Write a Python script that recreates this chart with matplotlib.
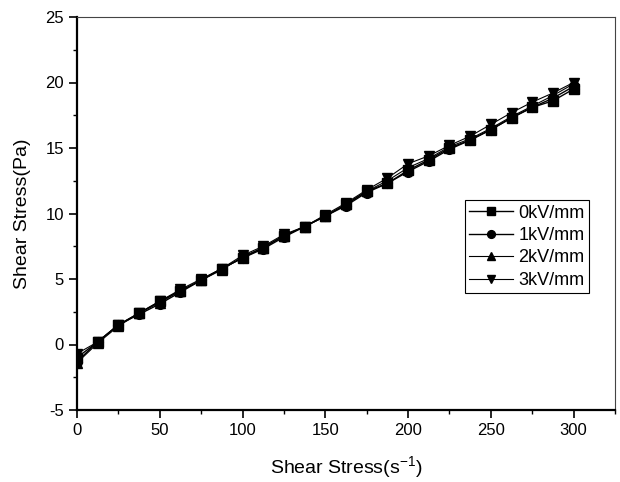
import matplotlib
matplotlib.use("Agg")
import matplotlib.pyplot as plt
from matplotlib.ticker import MultipleLocator

plt.rcParams['font.family'] = ['Liberation Sans', 'DejaVu Sans']
plt.rcParams['axes.unicode_minus'] = False

rate = [0, 12.5, 25, 37.5, 50, 62.5, 75, 87.5, 100, 112.5, 125, 137.5, 150,
        162.5, 175, 187.5, 200, 212.5, 225, 237.5, 250, 262.5, 275, 287.5, 300]

s0 = [-1.0, 0.2, 1.5, 2.4, 3.3, 4.1, 4.9, 5.8, 6.6, 7.4, 8.3, 9.0, 9.8,
      10.7, 11.7, 12.3, 13.3, 14.1, 15.0, 15.6, 16.4, 17.3, 18.1, 18.6, 19.5]
s1 = [-1.3, 0.2, 1.5, 2.3, 3.1, 4.0, 4.9, 5.8, 6.6, 7.3, 8.2, 9.0, 9.8,
      10.6, 11.6, 12.3, 13.2, 14.0, 14.9, 15.6, 16.4, 17.3, 18.1, 18.8, 19.7]
s2 = [-1.4, 0.1, 1.4, 2.4, 3.2, 4.1, 4.9, 5.7, 6.7, 7.4, 8.3, 9.0, 9.8,
      10.7, 11.7, 12.5, 13.5, 14.2, 15.1, 15.7, 16.5, 17.4, 18.2, 19.0, 19.9]
s3 = [-0.7, 0.2, 1.5, 2.4, 3.3, 4.2, 5.0, 5.8, 6.8, 7.5, 8.4, 9.0, 9.9,
      10.8, 11.8, 12.7, 13.8, 14.4, 15.2, 15.9, 16.8, 17.7, 18.5, 19.2, 20.0]

labels = ['0kV/mm', '1kV/mm', '2kV/mm', '3kV/mm']
markers = ['s', 'o', '^', 'v']
series = [s0, s1, s2, s3]
lws = [1.0, 1.0, 0.8, 0.8]

fig = plt.figure(figsize=(6.2, 4.82), dpi=100)
ax = fig.add_axes([77/620, 1 - 410/482, (615-77)/620, (410-17)/482])

for y, lab, m, lw in zip(series, labels, markers, lws):
    ax.plot(rate, y, color='black', marker=m, markersize=7, linewidth=lw,
            label=lab)

ax.set_xlim(0, 325)
ax.set_ylim(-5, 25)
ax.xaxis.set_major_locator(MultipleLocator(50))
ax.xaxis.set_minor_locator(MultipleLocator(25))
ax.yaxis.set_major_locator(MultipleLocator(5))
ax.yaxis.set_minor_locator(MultipleLocator(2.5))
ax.tick_params(which='major', direction='out', length=6, width=1.2,
               labelsize=12, top=False, right=False)
ax.tick_params(which='minor', direction='out', length=3, width=1.0,
               top=False, right=False)

for side in ['left', 'bottom']:
    ax.spines[side].set_linewidth(1.6)
for side in ['top', 'right']:
    ax.spines[side].set_linewidth(0.8)
    ax.spines[side].set_color('#444444')

ax.set_xlabel('Shear Stress(s$^{\\mathregular{-1}}$)', fontsize=14, labelpad=12)
ax.set_ylabel('Shear Stress(Pa)', fontsize=14, labelpad=10)

leg = ax.legend(loc='upper left', bbox_to_anchor=(0.721, 0.534),
                fontsize=13, fancybox=False, framealpha=1, markerscale=0.8,
                edgecolor='black', handlelength=2.4, handletextpad=0.3,
                borderpad=0.25, labelspacing=0.3, borderaxespad=0)
leg.get_frame().set_linewidth(0.8)

fig.savefig('out.png', dpi=100)
